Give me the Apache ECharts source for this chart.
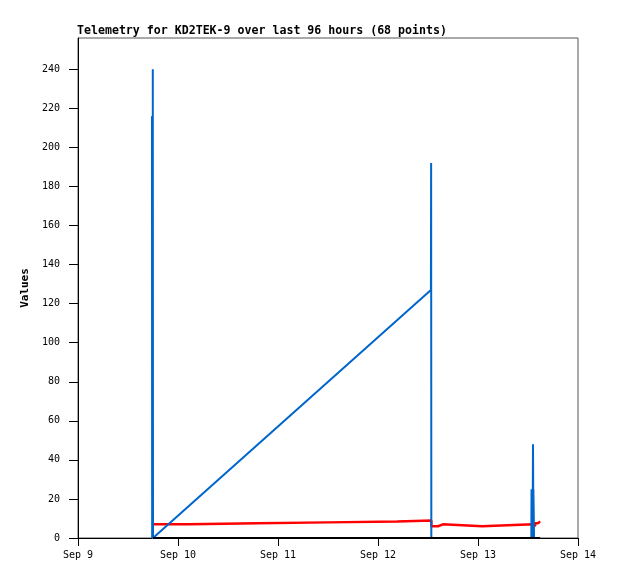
<!DOCTYPE html>
<html>
<head>
<meta charset="utf-8">
<script src="https://cdn.jsdelivr.net/npm/echarts@6/dist/echarts.min.js"></script>
<style>
    html, body { margin: 0; padding: 0; background: #fff; }
    #main { width: 618px; height: 579px; }
</style>
</head>
<body>
<div id="main"></div>
<script>
    // x values are hours since Sep 9 00:00
    var xTicks = [0, 24, 48, 72, 96, 120];
    var xLabels = ['Sep 9', 'Sep 10', 'Sep 11', 'Sep 12', 'Sep 13', 'Sep 14'];
    var yTicks = [0, 20, 40, 60, 80, 100, 120, 140, 160, 180, 200, 220, 240];

    // blue channel with the ramp and the tall spikes
    var blueA = [[17.95, 240], [18.0, 0], [84.7, 127], [84.75, 192], [84.8, 0],
                 [109.1, 0], [109.2, 48], [109.3, 0], [110.9, 0]];
    // second blue channel
    var blueB = [[17.75, 216], [17.8, 0], [108.8, 0], [108.85, 25], [109.15, 25],
                 [109.2, 0], [109.25, 25], [109.4, 25], [109.45, 0], [110.9, 0]];
    // red channel: level changes (time, value), drawn as steps
    var redTimes = [18.0, 26.6, 43.2, 60.0, 76.6, 84.8, 86.4, 87.6, 97.0, 109.2, 109.7, 110.4];
    var redValues = [7.0, 7.5, 8.0, 8.5, 9.0, 6.0, 7.0, 6.0, 7.0, 6.0, 7.5, 8.5];
    var redEnd = 110.9;
    // black channel, flat at zero
    var blackD = [[18.0, 0], [110.9, 0]];

    var redC = [];
    for (var i = 0; i < redTimes.length; i++) {
        var next = i + 1 < redTimes.length ? redTimes[i + 1] : redEnd;
        redC.push([redTimes[i], redValues[i]]);
        redC.push([next, redValues[i]]);
    }

    var font = 'DejaVu Sans Mono';

    var option = {
        animation: false,
        title: {
            text: 'Telemetry for KD2TEK-9 over last 96 hours (68 points)',
            left: 77,
            top: 25,
            padding: 0,
            textStyle: { fontFamily: font, fontSize: 11.6, fontWeight: 'bold', color: '#000' }
        },
        grid: {
            left: 78, right: 40, top: 38, bottom: 41,
            show: true, borderColor: '#555', borderWidth: 1, backgroundColor: '#fff'
        },
        xAxis: {
            type: 'value',
            min: 0, max: 120, interval: 24,
            axisLine: { lineStyle: { color: '#000', width: 1 } },
            axisTick: { customValues: xTicks, length: 8, lineStyle: { color: '#000' } },
            axisLabel: {
                customValues: xTicks,
                margin: 12,
                fontFamily: font, fontSize: 10, color: '#000',
                formatter: function (v) { return xLabels[xTicks.indexOf(v)]; }
            },
            splitLine: { show: false }
        },
        yAxis: {
            type: 'value',
            min: 0, max: 256,
            name: 'Values',
            nameLocation: 'middle',
            nameGap: 39,
            nameTextStyle: { fontFamily: font, fontSize: 11, fontWeight: 'bold', color: '#000' },
            axisLine: { show: true, lineStyle: { color: '#000', width: 1 } },
            axisTick: { show: true, customValues: yTicks, length: 9, lineStyle: { color: '#000' } },
            axisLabel: { customValues: yTicks, margin: 18, fontFamily: font, fontSize: 10, color: '#000' },
            splitLine: { show: false }
        },
        series: [
            { type: 'line', data: redC, symbol: 'none',
              lineStyle: { color: '#ff0000', width: 2.5 } },
            { type: 'line', data: blueA, symbol: 'none',
              lineStyle: { color: '#0066cc', width: 2 } },
            { type: 'line', data: blueB, symbol: 'none',
              lineStyle: { color: '#0066cc', width: 2 } },
            { type: 'line', data: blackD, symbol: 'none',
              lineStyle: { color: '#000', width: 2 } }
        ]
    };

    var myChart = echarts.init(document.getElementById('main'));
    myChart.setOption(option);
</script>
</body>
</html>
